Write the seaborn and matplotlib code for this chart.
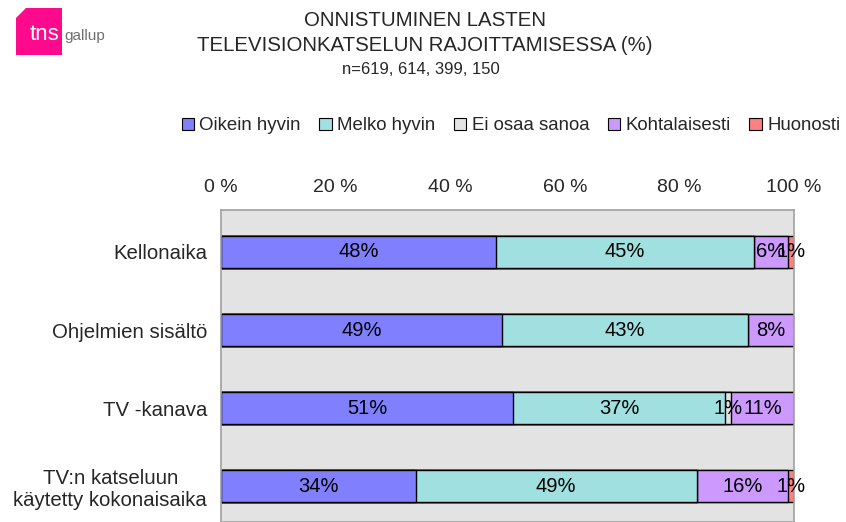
import numpy as np
import pandas as pd
import seaborn as sns
import matplotlib.pyplot as plt
from matplotlib.patches import Patch, Polygon

# data
categories = ['Kellonaika', 'Ohjelmien sisältö', 'TV -kanava',
              'TV:n katseluun\nkäytetty kokonaisaika']
series = ['Oikein hyvin', 'Melko hyvin', 'Ei osaa sanoa', 'Kohtalaisesti', 'Huonosti']
oikein_hyvin = [48, 49, 51, 34]
melko_hyvin = [45, 43, 37, 49]
ei_osaa = [0, 0, 1, 0]
kohtalaisesti = [6, 8, 11, 16]
huonosti = [1, 0, 0, 1]
colors = ['#8080FF', '#A0E0E0', '#E3E3E3', '#CC99FF', '#FF8080']
xticks = [0, 20, 40, 60, 80, 100]

vals = np.array([oikein_hyvin, melko_hyvin, ei_osaa, kohtalaisesti, huonosti], dtype=float)
cum = vals.cumsum(axis=0)

sns.set_style('white')
plt.rcParams['font.family'] = ['Liberation Sans', 'DejaVu Sans']

fig = plt.figure(figsize=(8.46, 5.22), dpi=100)
ax = fig.add_axes([221/846, 0, 573/846, 312/522])
ax.set_facecolor('#E3E3E3')

# stacked bars: draw cumulative totals from the outermost series inwards
for i in range(len(series) - 1, -1, -1):
    df = pd.DataFrame({'cat': categories, 'val': cum[i]})
    sns.barplot(data=df, x='val', y='cat', orient='h', color=colors[i],
                edgecolor='black', linewidth=1.0, width=0.41, ax=ax,
                saturation=1)

# segment labels
for j in range(len(categories)):
    for i in range(len(series)):
        v = vals[i, j]
        if v <= 0:
            continue
        left = cum[i, j] - v
        ax.text(left + v / 2, j, f'{int(v)}%', ha='center', va='center',
                fontsize=14.5, color='black')

ax.set_xlim(0, 100)
ax.set_ylim(3.46, -0.538)
ax.set_xlabel('')
ax.set_ylabel('')
ax.xaxis.tick_top()
ax.set_xticks(xticks)
ax.set_xticklabels([f'{t} %' for t in xticks], fontsize=14)
ax.tick_params(axis='x', length=0, pad=10)
ax.tick_params(axis='y', length=0, pad=10, labelsize=14.7)
for lab in ax.get_yticklabels():
    lab.set_multialignment('center')
for s in ax.spines.values():
    s.set_color('#A0A0A0')
    s.set_linewidth(1.2)

# legend
handles = [Patch(facecolor=c, edgecolor='black', linewidth=0.8) for c in colors]
fig.legend(handles, series, loc='center', bbox_to_anchor=(511/846, 1 - 126/522),
           ncol=5, frameon=False, fontsize=13.4, handlelength=0.65, handleheight=0.65,
           handletextpad=0.3, columnspacing=1.0, borderpad=0)

# titles
fig.text(425/846, 1 - 20/522, 'ONNISTUMINEN LASTEN', ha='center', va='center', fontsize=14.7)
fig.text(425/846, 1 - 45/522, 'TELEVISIONKATSELUN RAJOITTAMISESSA (%)',
         ha='center', va='center', fontsize=14.7)
fig.text(421/846, 1 - 70/522, 'n=619, 614, 399, 150', ha='center', va='center', fontsize=12)

# logo
logo = Polygon([[26/846, 1 - 8/522], [62/846, 1 - 8/522], [62/846, 1 - 55/522],
                [16/846, 1 - 55/522], [16/846, 1 - 18/522]],
               closed=True, transform=fig.transFigure, facecolor='#FF0A8C',
               edgecolor='none')
fig.patches.append(logo)
fig.text(44/846, 1 - 34/522, 'tns', ha='center', va='center', fontsize=16,
         color='white')
fig.text(64/846, 1 - 36/522, 'gallup', ha='left', va='center', fontsize=11,
         color='#707070')

fig.savefig('out.png', dpi=100)
